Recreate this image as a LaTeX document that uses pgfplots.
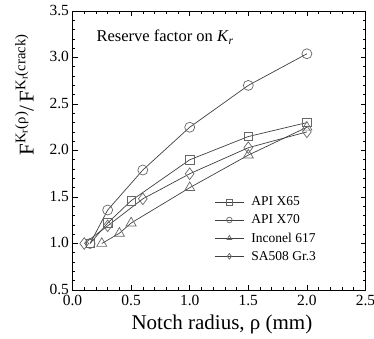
\documentclass[border=0pt]{standalone}
\usepackage{fontspec}
\setmainfont{Liberation Serif}
\usepackage{amsmath}
\usepackage{pgfplots}
\pgfplotsset{compat=1.18}
\begin{document}
\begin{tikzpicture}
\begin{axis}[
  scale only axis,
  width=293pt, height=279pt,
  xmin=0, xmax=2.5, ymin=0.5, ymax=3.5,
  xtick={0,0.5,...,2.5}, ytick={0.5,1.0,...,3.5},
  minor x tick num=4, minor y tick num=4,
  major tick length=5pt, minor tick length=3pt,
  tick style={black, line width=0.6pt},
  axis line style={black, line width=0.8pt},
  /pgf/number format/assume math mode=true,
  /pgf/number format/fixed, /pgf/number format/fixed zerofill, /pgf/number format/precision=1,
  ticklabel style={font=\fontsize{15.5}{17}\selectfont},
  xticklabel style={yshift=-1.5pt},
  yticklabel style={yshift=1pt},
  xlabel={Notch radius, ρ (mm)},
  ylabel={$\text{F}^{\text{K}_{\text{r}}\text{(ρ)}}\text{/}\,\text{F}^{\text{K}_{\text{r}}\text{(crack)}}$},
  label style={font=\fontsize{21}{23}\selectfont},
  xlabel style={at={(rel axis cs:0.51,0)}, anchor=center, yshift=-34pt},
  ylabel style={at={(rel axis cs:0,0.70)}, anchor=center, yshift=48pt},
  legend style={draw=none, fill=none, at={(rel axis cs:0.485,0.34)}, anchor=north west,
    font=\fontsize{13.5}{15}\selectfont, row sep=4.5pt, column sep=6pt, inner sep=0pt, nodes={inner sep=1.5pt}},
  legend cell align=left,
  legend image code/.code={\draw[mark repeat=2,mark phase=2, mark size=2.8pt] plot coordinates {(0cm,0cm) (0.5cm,0cm) (1.0cm,0cm)};},
  every axis plot/.append style={line width=0.7pt, black!75, mark options={draw=black!60, fill=white, solid, line width=0.7pt}},
]
\addplot[mark=square, mark size=4.2pt] coordinates {(0.15,1.0) (0.3,1.22) (0.5,1.46) (1.0,1.9) (1.5,2.15) (2.0,2.3)};
\addlegendentry{API X65}
\addplot[mark=o, mark size=5pt] coordinates {(0.15,1.0) (0.3,1.36) (0.6,1.79) (1.0,2.25) (1.5,2.7) (2.0,3.04)};
\addlegendentry{API X70}
\addplot[mark=triangle, mark size=5.8pt] coordinates {(0.25,1.0) (0.4,1.11) (0.5,1.22) (1.0,1.6) (1.5,1.95) (2.0,2.25)};
\addlegendentry{Inconel 617}
\addplot[mark=diamond, mark size=5.8pt] coordinates {(0.1,1.0) (0.3,1.19) (0.6,1.48) (1.0,1.75) (1.5,2.03) (2.0,2.2)};
\addlegendentry{SA508 Gr.3}
\node[anchor=west, font=\fontsize{16.5}{18}\selectfont] at (rel axis cs:0.07,0.906) {Reserve factor on \textit{K}\textsubscript{\textit{r}}};
\end{axis}
\pgfresetboundingbox
\useasboundingbox (-72.5pt,-49pt) rectangle (301.5pt,290pt);
\end{tikzpicture}
\end{document}
